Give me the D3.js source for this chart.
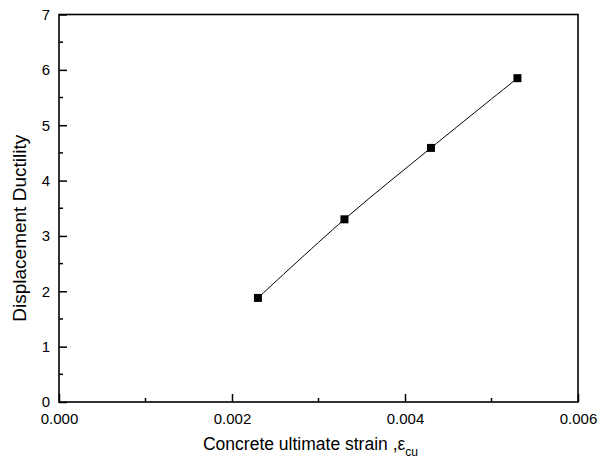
<!DOCTYPE html>
<html>
<head>
<meta charset="utf-8">
<script src="https://cdn.jsdelivr.net/npm/d3@7"></script>
<style>
  body { margin: 0; background: #fff; }
  svg { display: block; font-family: "Liberation Sans", Arial, sans-serif; }
</style>
</head>
<body>
<svg width="607" height="464"></svg>
<script>
// data
const strain = [0.0023, 0.0033, 0.0043, 0.0053];
const ductility = [1.88, 3.30, 4.59, 5.85];
const xTicks = [0, 0.002, 0.004, 0.006];
const xMinor = [0.001, 0.003, 0.005];
const yTicks = [0, 1, 2, 3, 4, 5, 6, 7];
const yMinor = [0.5, 1.5, 2.5, 3.5, 4.5, 5.5, 6.5];

const width = 607, height = 464;
const m = {left: 59, right: 578, top: 14.5, bottom: 402};

const svg = d3.select("svg");

const x = d3.scaleLinear().domain([0, 0.006]).range([m.left, m.right]);
const y = d3.scaleLinear().domain([0, 7]).range([m.bottom, m.top]);

// frame
svg.append("rect")
    .attr("x", m.left).attr("y", m.top)
    .attr("width", m.right - m.left).attr("height", m.bottom - m.top)
    .attr("fill", "none").attr("stroke", "#000").attr("stroke-width", 1.6);

// x axis - ticks point inward
const xAxis = svg.append("g").attr("transform", `translate(0,${m.bottom})`)
    .call(d3.axisBottom(x).tickValues(xTicks).tickSize(-8)
        .tickFormat(d3.format(".3f")));
xAxis.select(".domain").remove();
xAxis.selectAll(".tick line").attr("stroke-width", 1.5);
xAxis.selectAll("text").attr("font-size", 15).attr("font-family", "Liberation Sans, Arial, sans-serif").attr("dy", "0.71em").attr("y", 11);

svg.append("g").selectAll("line").data(xMinor).join("line")
    .attr("x1", d => x(d)).attr("x2", d => x(d))
    .attr("y1", m.bottom).attr("y2", m.bottom - 4)
    .attr("stroke", "#000").attr("stroke-width", 1.5);

// y axis
const yAxis = svg.append("g").attr("transform", `translate(${m.left},0)`)
    .call(d3.axisLeft(y).tickValues(yTicks).tickSize(-8).tickFormat(d3.format("d")));
yAxis.select(".domain").remove();
yAxis.selectAll(".tick line").attr("stroke-width", 1.5);
yAxis.selectAll("text").attr("font-size", 15).attr("font-family", "Liberation Sans, Arial, sans-serif").attr("x", -9);

svg.append("g").selectAll("line").data(yMinor).join("line")
    .attr("x1", m.left).attr("x2", m.left + 4)
    .attr("y1", d => y(d)).attr("y2", d => y(d))
    .attr("stroke", "#000").attr("stroke-width", 1.5);

// series
const pts = strain.map((s, i) => [s, ductility[i]]);
const line = d3.line().x(d => x(d[0])).y(d => y(d[1])).curve(d3.curveCatmullRom.alpha(0.5));
svg.append("path").datum(pts)
    .attr("d", line).attr("fill", "none").attr("stroke", "#000").attr("stroke-width", 1);

svg.append("g").selectAll("rect").data(pts).join("rect")
    .attr("x", d => x(d[0]) - 4).attr("y", d => y(d[1]) - 4)
    .attr("width", 8).attr("height", 8).attr("fill", "#000");

// axis titles
const xt = svg.append("text")
    .attr("x", (m.left + m.right) / 2 - 8).attr("y", 450)
    .attr("text-anchor", "middle").attr("font-size", 17.5);
xt.append("tspan").text("Concrete ultimate strain ,ε");
xt.append("tspan").attr("font-size", 12).attr("dy", 6).text("cu");

svg.append("text")
    .attr("transform", `translate(26,${(m.top + m.bottom) / 2 + 20}) rotate(-90)`)
    .attr("text-anchor", "middle").attr("font-size", 19)
    .text("Displacement Ductility");
</script>
</body>
</html>
